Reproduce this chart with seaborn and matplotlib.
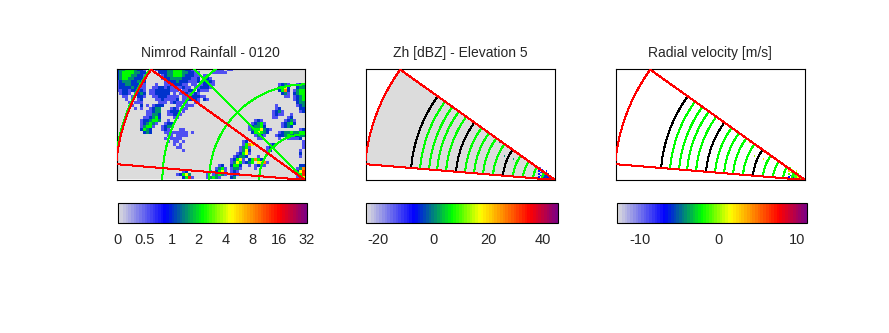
import numpy as np
import matplotlib
matplotlib.use('Agg')
import matplotlib.pyplot as plt
import seaborn as sns
from matplotlib.colors import LinearSegmentedColormap

sns.set_style('white')
plt.rcParams['font.family'] = ['Liberation Sans', 'DejaVu Sans']

# Rainfall field, one char per 3 px cell, spaces are only for counting
rain_rows = [
    "2334443221 ...1222334 443221.... ..1111.11. .......... .......... ...",
    "2344443322 ....222334 44332211.. ..11111... .......... .......... ...",
    "2344433221 .....12334 44322211.1 1......... .......... .......... ...",
    "2344332221 .....12233 33222112.2 21........ .......... .......... ...",
    "1233322322 ......1222 32221112.2 321....... .......... .......... ...",
    "1223322211 ...1..1122 2211.11.12 211....... .......... ....1231.. 123",
    "1222232211 ..11221211 11211.1122 21........ .......... ....3452.. 233",
    "1122122321 .112222211 1.1122.211 1......... .......... ....2462.1 344",
    ".1221.1232 .1122222.1 .1121121.. .......... .......... .....231.2 344",
    "..11.1.221 ..11222111 1.11222211 .......... .......... ......11.1 234",
    "...1.1.12. ...1121111 2.112221.2 1......... .......... .........1 234",
    "....1.111. ....111.12 1111..11.. .......... .......... .......... 233",
    ".....1..2. 1.1222.... 11.111.... .......... .......... ...1...... 123",
    "......1.1. .1233...12 1.11...... .......... .......... ...12..... .22",
    ".......... 11233..122 2.1....... .......... .......... ..1231.... .12",
    ".......... 11332..112 21........ .......... .......... ..1211..1. ...",
    ".........1 12342....1 1......... .......... .......... ..11...12. ...",
    "........12 23443..1.. .......... .......... ......121. ......1231 ...",
    "........12 3431..122. .......... .......... .....12341 .....12342 ...",
    "........13 441..1233. .......... .......... ....123342 .....1232. ...",
    "........24 32...121.. .11....... .......... ....134453 21........ .12",
    ".........2 32....1111 1111.1.... .......... .....24543 2...123343 344",
    ".......... .......11. 1111...... .......... ......1321 ...1223432 233",
    ".......... ......1.11 11........ .......... .......11. ....1..111 12.",
    ".......... .......1.1 1.1....... .......... ..12...... .......... ..1",
    ".......... .........1 .1........ .......... ..1465.... .12....... ..1",
    ".......... .......... 11........ .......... .1341..... 123....... ..1",
    ".......... .......... ..1....... .......... .1352..... 12........ .1.",
    ".......... .......... .......... .......... 12451..... .......... .2.",
    ".......... .......... .......... .........1 2332...1.. .......... .1.",
    ".......... .......... .......... ........12 451.24642. .......... ...",
    ".......... .......... .......... ........13 541234.556 1......... ...",
    ".......... .......... .......... ....12..24 42..1.1211 .......... .22",
    ".......... .......... .......... ...1341.13 31....1... .......... 136",
    ".......... .......... ..12...... .1.2451.12 1......... .......... 257",
    ".......... .......... 12453..... 1.13431.12 1......... .......... 147",
    ".......... .......... ..2471.... 13431...23 .......... .......... 135",
]
rain_codes = {'.': 0, '1': 0.55, '2': 1.0, '3': 1.5, '4': 2.3, '5': 4.5, '6': 8, '7': 14}
rain_ticks = [0, 0.5, 1, 2, 4, 8, 16, 32]

# Radar echoes near the radar, 1.5 px cells, last char sits next to the radar
zh_rows = [
    "..2.........",
    ".211........",
    ".1.21.1.....",
    "..13121.....",
    ".1..3113....",
    "..1213313...",
    ".1.1133133..",
    "......13131.",
]
zh_codes = {'1': -8, '2': -14, '3': -3}
vel_rows = [
    "..1.........",
    ".122........",
    ".4.14.2.....",
    "..21412.....",
    ".1..1131....",
    "..3121141...",
    ".3.1311211..",
    "......13111.",
]
vel_codes = {'1': -1, '2': 1, '3': -7, '4': 3}

# isolated echo specks: px left of radar, px above radar, value
zh_speck_dx = [55, 50, 30, 41]
zh_speck_dy = [37, 23, 21, 20]
zh_speck_val = [0, 1, -6, 2]
vel_speck_dx = [55, 50, 30, 41]
vel_speck_dy = [37, 23, 21, 20]
vel_speck_val = [1, 0, -1, 2]

titles = ['Nimrod Rainfall - 0120', 'Zh [dBZ] - Elevation 5', 'Radial velocity [m/s]']
zh_ticks = [-20, 0, 20, 40]
vel_ticks = [-10, 0, 10]
zh_range = (-24.6, 45.2)
vel_range = (-13, 11.2)

# range rings, px from the radar
sector_r = 190
sector_angles = (4.8, 35.7)
rain_rings = [46, 96, 143, 191]
rain_radials = [45, 90]
black_rings = [144, 99, 52]
green_rings = [135, 126, 118, 109, 90, 81, 72, 62, 42, 32, 22, 13]

W, H = 189, 112
cmap = LinearSegmentedColormap.from_list('radar', [
    (0, '#dcdcdc'), (0.25, '#0000ff'), (0.45, '#00ff00'),
    (0.6, '#ffff00'), (0.86, '#ff0000'), (1, '#800080')], N=70)


def box(x0, y0, x1, y1):
    # pixel box (top-left origin) to figure fractions
    return [x0 / 889, 1 - y1 / 333, (x1 - x0) / 889, (y1 - y0) / 333]


def line(ax, x, y, cell, color, zorder=3):
    ax.plot((W + np.asarray(x)) / cell, (H - np.asarray(y)) / cell, color=color,
            lw=0.72, antialiased=False, zorder=zorder, solid_capstyle='butt')


def arc(ax, r, a0, a1, cell, color, zorder=3):
    t = np.radians(np.linspace(a0, a1, 120))
    line(ax, -r * np.cos(t), r * np.sin(t), cell, color, zorder=zorder)


def sector(ax, cell):
    a0, a1 = sector_angles
    arc(ax, sector_r, a0, a1, cell, 'red', zorder=4)
    for a in (a0, a1):
        t = np.radians(a)
        line(ax, [0, -sector_r * np.cos(t)], [0, sector_r * np.sin(t)], cell, 'red', zorder=4)


def finish(ax, cax, cell, title, ticks, labels):
    ax.set_xlim(0, W / cell)
    ax.set_ylim(H / cell, 0)
    ax.set_xticks([])
    ax.set_yticks([])
    ax.set_xlabel('')
    ax.set_ylabel('')
    for s in ax.spines.values():
        s.set_visible(True)
        s.set_color('black')
        s.set_linewidth(0.8)
        s.set_zorder(2.5)
    ax.set_title(title, fontsize=10, pad=8)
    cbar = ax.collections[0].colorbar
    cbar.set_ticks(ticks)
    cbar.set_ticklabels(labels)
    cbar.outline.set_visible(True)
    cbar.outline.set_edgecolor('black')
    cbar.outline.set_linewidth(0.8)
    cax.tick_params(axis='x', direction='in', top=True, bottom=True, length=2, width=0.7,
                    labelsize=10.5, pad=7, color='black')


def radar_panel(ax, cax, rows, codes, vrange, ticks, title, speck_dx, speck_dy, speck_val, fill):
    cell = 1.5
    nrows, ncols = int(H / cell), int(W / cell)
    grid = np.full((nrows, ncols), np.nan)
    for i, row in enumerate(rows):
        for j, ch in enumerate(row):
            if ch in codes:
                grid[nrows - len(rows) + i, ncols - len(row) + j] = codes[ch]
    for dx, dy, v in zip(speck_dx, speck_dy, speck_val):
        grid[nrows - int(dy / cell) - 1, ncols - int(dx / cell) - 1] = v
    sns.heatmap(grid, ax=ax, cmap=cmap, vmin=vrange[0], vmax=vrange[1], xticklabels=False,
                yticklabels=False, cbar_ax=cax, cbar_kws={'orientation': 'horizontal'})
    if fill:
        a0, a1 = sector_angles
        t = np.radians(np.linspace(a0, a1, 120))
        px = np.r_[0, -sector_r * np.cos(t)]
        py = np.r_[0, sector_r * np.sin(t)]
        ax.fill((W + px) / cell, (H - py) / cell, color='#dcdcdc', lw=0, zorder=0.5)
    for r in green_rings:
        arc(ax, r, sector_angles[0], sector_angles[1], cell, '#00ff00')
    for r in black_rings:
        arc(ax, r, sector_angles[0], sector_angles[1], cell, 'black')
    sector(ax, cell)
    finish(ax, cax, cell, title, ticks, [str(t) for t in ticks])


fig = plt.figure(figsize=(8.89, 3.33), dpi=100)

# left panel, rainfall on the even spaced log scale of the bar
ax1 = fig.add_axes(box(116.5, 68.5, 305, 180))
cax1 = fig.add_axes(box(117.5, 203, 306.5, 223))
rain = np.array([[rain_codes[c] for c in r.replace(' ', '')] for r in rain_rows])
rain_pos = np.interp(rain, rain_ticks, np.arange(len(rain_ticks)))
sns.heatmap(rain_pos, ax=ax1, cmap=cmap, vmin=0, vmax=7, xticklabels=False, yticklabels=False,
            cbar_ax=cax1, cbar_kws={'orientation': 'horizontal'})
for r in rain_rings:
    arc(ax1, r, 0, 90, 3, '#00ff00')
for a in rain_radials:
    t = np.radians(a)
    line(ax1, [0, -300 * np.cos(t)], [0, 300 * np.sin(t)], 3, '#00ff00')
sector(ax1, 3)
finish(ax1, cax1, 3, titles[0], np.arange(len(rain_ticks)), [str(t) for t in rain_ticks])

ax2 = fig.add_axes(box(365.5, 68.5, 555, 180))
cax2 = fig.add_axes(box(365.5, 203, 557.5, 223))
radar_panel(ax2, cax2, zh_rows, zh_codes, zh_range, zh_ticks, titles[1],
            zh_speck_dx, zh_speck_dy, zh_speck_val, True)

ax3 = fig.add_axes(box(615.5, 68.5, 805, 180))
cax3 = fig.add_axes(box(616.5, 203, 806.5, 223))
radar_panel(ax3, cax3, vel_rows, vel_codes, vel_range, vel_ticks, titles[2],
            vel_speck_dx, vel_speck_dy, vel_speck_val, False)

fig.savefig('out.png', dpi=100)
